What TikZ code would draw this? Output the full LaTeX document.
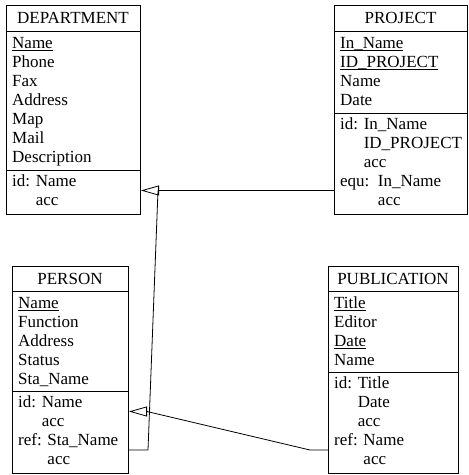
\documentclass[tikz,border=0pt]{standalone}
\usepackage{fontspec}
\setmainfont{Liberation Serif}
\newfontfamily\erfont{Liberation Serif}
\usetikzlibrary{arrows.meta}
\newcommand\keyul[1]{\setbox0\hbox{#1}\rlap{\rule[-2.6pt]{\wd0}{0.8pt}}\box0}
\begin{document}
\begin{tikzpicture}[x=1pt,y=-1pt,
  box/.style={draw, line width=1pt, inner sep=0pt, anchor=north west},
  txt/.style={anchor=base west, inner sep=0pt, font=\erfont\fontsize{17}{19}\selectfont},
  ttl/.style={anchor=base, inner sep=0pt, font=\erfont\fontsize{17}{19}\selectfont},
  sepline/.style={line width=1pt},
  link/.style={line width=0.8pt},
  isa/.style={-{Triangle[open,length=18pt,width=10pt,line width=0.8pt]}}
]
\useasboundingbox (0,0) rectangle (469,475);

% boxes
\node[box, minimum width=134pt, minimum height=209pt] (dep) at (6,5) {};
\node[box, minimum width=133pt, minimum height=209pt] (proj) at (334,5) {};
\node[box, minimum width=116pt, minimum height=207pt] (per) at (12,266) {};
\node[box, minimum width=130pt, minimum height=207pt] (pub) at (328,266) {};

% separators
\draw[sepline] (dep.west |- 0,31) -- (dep.east |- 0,31);
\draw[sepline] (dep.west |- 0,170) -- (dep.east |- 0,170);
\draw[sepline] (proj.west |- 0,31) -- (proj.east |- 0,31);
\draw[sepline] (proj.west |- 0,113) -- (proj.east |- 0,113);
\draw[sepline] (per.west |- 0,291) -- (per.east |- 0,291);
\draw[sepline] (per.west |- 0,391) -- (per.east |- 0,391);
\draw[sepline] (pub.west |- 0,291) -- (pub.east |- 0,291);
\draw[sepline] (pub.west |- 0,372) -- (pub.east |- 0,372);

% titles
\node[ttl] (dept) at (73,23) {DEPARTMENT};
\node[ttl] (projt) at (400.5,23) {PROJECT};
\node[ttl] (pert) at (70,284) {PERSON};
\node[ttl] (pubt) at (393,284) {PUBLICATION};

% DEPARTMENT
\foreach \t [count=\i] in {\keyul{Name}, Phone, Fax, Address, Map, Mail, Description, id: Name, \phantom{id: }acc}{
  \pgfmathsetmacro{\yy}{\i<8 ? 48+19*(\i-1) : 186+19*(\i-8)}
  \node[txt] (dep-\i) at (12,\yy) {\t};
}
% PROJECT
\foreach \t [count=\i] in {\keyul{In\_Name}, \keyul{ID\_PROJECT}, Name, Date, id: In\_Name, \phantom{id: }ID\_PROJECT, \phantom{id: }acc, equ:\ \ In\_Name, \phantom{equ:\ \ }acc}{
  \pgfmathsetmacro{\yy}{\i<5 ? 48+19*(\i-1) : 129+19*(\i-5)}
  \node[txt] (proj-\i) at (340,\yy) {\t};
}
% PERSON
\foreach \t [count=\i] in {\keyul{Name}, Function, Address, Status, Sta\_Name, id: Name, \phantom{id: }acc, ref: Sta\_Name, \phantom{ref: }acc}{
  \pgfmathsetmacro{\yy}{\i<6 ? 308+19*(\i-1) : 407+19*(\i-6)}
  \node[txt] (per-\i) at (18,\yy) {\t};
}
% PUBLICATION
\foreach \t [count=\i] in {\keyul{Title}, Editor, \keyul{Date}, Name, id: Title, \phantom{id: }Date, \phantom{id: }acc, ref: Name, \phantom{ref: }acc}{
  \pgfmathsetmacro{\yy}{\i<5 ? 308+19*(\i-1) : 388+19*(\i-5)}
  \node[txt] (pub-\i) at (334,\yy) {\t};
}

% connectors
\coordinate (j1) at (158,190.5);
\coordinate (k1) at (148,450);
\coordinate (j2) at (147,411.5);
\coordinate (k2) at (310,450);
\draw[link] (proj.west |- 0,190.5) -- (j1);
\draw[link] (per.east |- 0,450) -- (k1) -- (j1);
\draw[link,isa] (j1) -- (dep.east |- 0,190.5);
\draw[link] (pub.west |- 0,450) -- (k2) -- (j2);
\draw[link,isa] (j2) -- (per.east |- 0,411.5);
\end{tikzpicture}
\end{document}
